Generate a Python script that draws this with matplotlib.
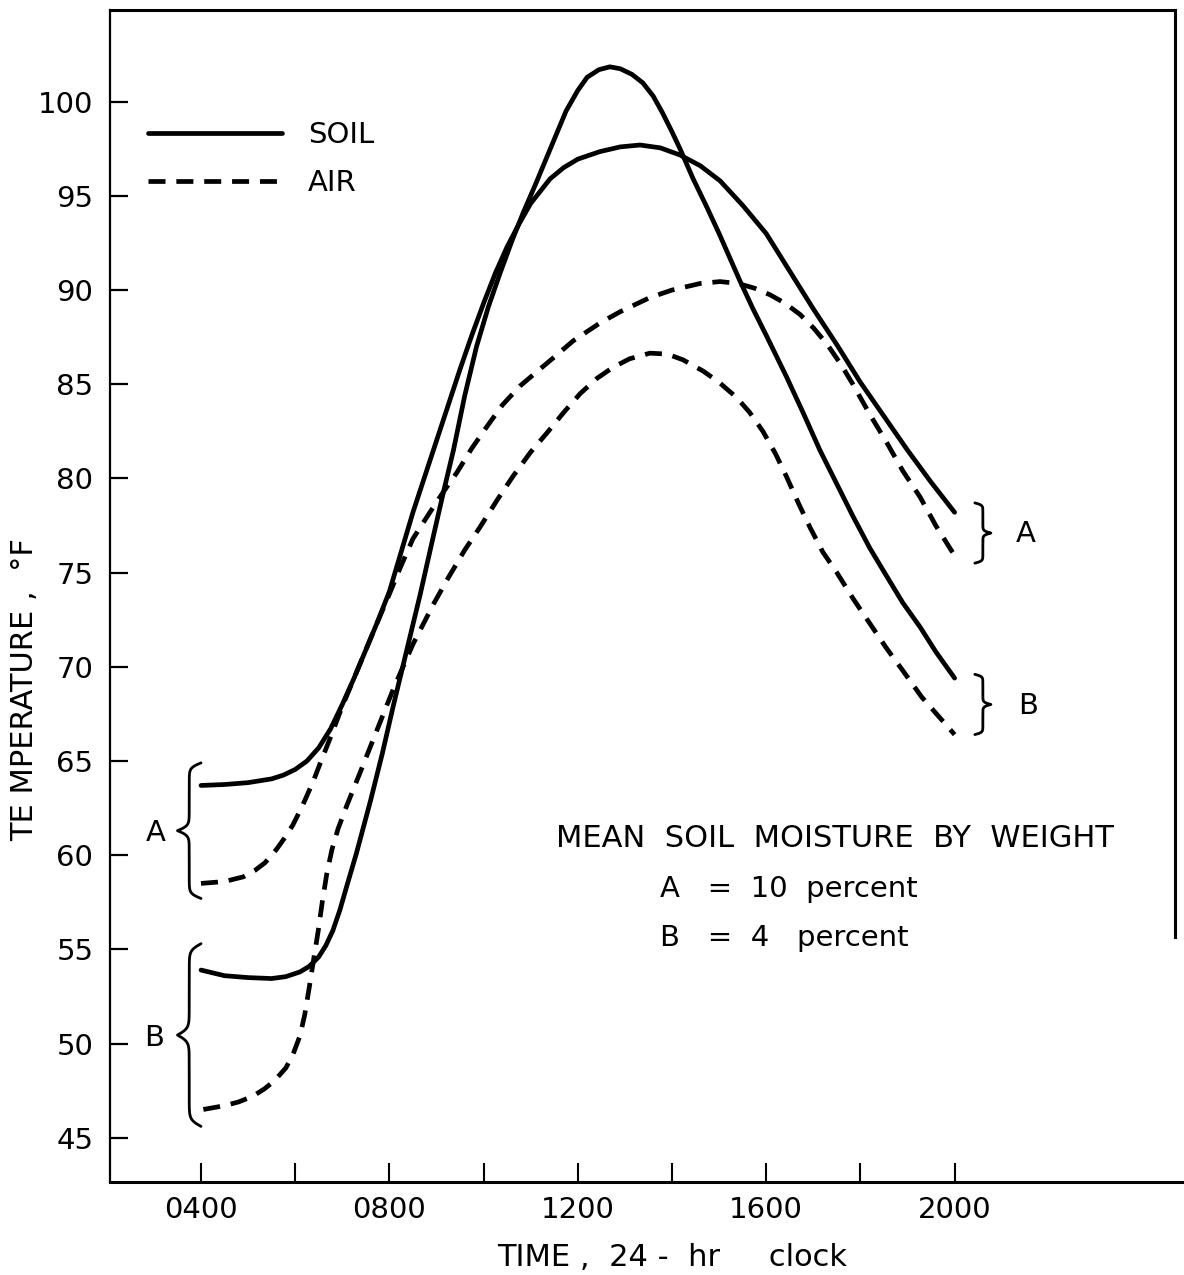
import numpy as np
import matplotlib.pyplot as plt

# hours (24-hr clock) and temperatures (deg F)
soil_a_hr = [4.0, 4.5, 5.0, 5.25, 5.5, 5.75, 6.0, 6.25, 6.5, 6.75, 7.0, 7.25, 7.5, 7.75, 8.0,
             8.25, 8.5, 8.75, 9.0, 9.25, 9.5, 9.75, 10.0, 10.25, 10.5, 10.75, 11.0, 11.41,
             11.7, 12.0, 12.47, 12.9, 13.32, 13.75, 14.17, 14.6, 15.02, 15.5, 16.0, 16.5,
             17.0, 17.5, 18.0, 18.5, 19.0, 19.5, 20.0]
soil_a_t = [63.7, 63.75, 63.85, 63.95, 64.05, 64.25, 64.55, 65.0, 65.7, 66.7, 68.0, 69.4, 70.9,
            72.4, 74.0, 76.1, 78.2, 80.1, 82.0, 83.9, 85.8, 87.6, 89.3, 90.9, 92.3, 93.5, 94.6,
            95.9, 96.5, 96.95, 97.35, 97.6, 97.7, 97.55, 97.17, 96.6, 95.8, 94.5, 93.0, 91.0,
            89.0, 87.1, 85.1, 83.3, 81.5, 79.8, 78.2]

air_a_hr = [4.0, 4.5, 4.9, 5.15, 5.36, 5.6, 5.8, 5.95, 6.15, 6.38, 6.55, 6.74, 7.0, 7.25, 7.5,
            7.75, 7.94, 8.22, 8.5, 8.86, 9.15, 9.43, 9.75, 10.07, 10.4, 10.77, 11.1, 11.48,
            11.9, 12.47, 12.9, 13.53, 14.0, 14.6, 15.02, 15.4, 15.75, 16.08, 16.4, 16.72,
            17.0, 17.3, 17.6, 17.84, 18.2, 18.56, 18.9, 19.27, 19.6, 20.0]
air_a_t = [58.5, 58.6, 58.85, 59.2, 59.6, 60.3, 61.0, 61.6, 62.6, 63.9, 65.0, 66.2, 67.9, 69.4,
           70.9, 72.4, 73.5, 75.2, 76.8, 78.2, 79.3, 80.3, 81.6, 82.75, 83.9, 84.9, 85.6,
           86.4, 87.3, 88.25, 88.85, 89.6, 90.0, 90.35, 90.45, 90.35, 90.1, 89.75, 89.3,
           88.7, 88.0, 87.1, 86.0, 85.0, 83.4, 81.9, 80.4, 79.0, 77.5, 75.9]

soil_b_hr = [4.0, 4.5, 5.0, 5.5, 5.8, 6.1, 6.3, 6.5, 6.65, 6.8, 6.95, 7.1, 7.3, 7.6, 7.85,
             8.08, 8.37, 8.65, 8.93, 9.15, 9.36, 9.6, 9.85, 10.1, 10.35, 10.6, 10.84, 11.1,
             11.35, 11.55, 11.75, 12.0, 12.2, 12.45, 12.68, 12.9, 13.15, 13.38, 13.6, 13.8,
             14.0, 14.17, 14.45, 14.74, 15.0, 15.44, 15.72, 16.0, 16.43, 16.8, 17.14, 17.5,
             17.84, 18.2, 18.56, 18.9, 19.27, 19.6, 20.0]
soil_b_t = [53.9, 53.6, 53.5, 53.45, 53.55, 53.8, 54.1, 54.6, 55.2, 56.0, 57.1, 58.4, 60.1,
            62.9, 65.4, 67.9, 70.9, 73.8, 76.9, 79.3, 81.5, 84.4, 87.0, 89.1, 90.9, 92.6,
            94.1, 95.6, 97.1, 98.3, 99.5, 100.6, 101.3, 101.7, 101.85, 101.75, 101.45,
            101.0, 100.3, 99.4, 98.4, 97.5, 95.9, 94.4, 93.0, 90.5, 89.0, 87.6, 85.4, 83.4,
            81.5, 79.7, 78.0, 76.3, 74.8, 73.4, 72.1, 70.8, 69.4]

air_b_hr = [4.05, 4.5, 4.8, 5.1, 5.35, 5.55, 5.8, 5.95, 6.1, 6.2, 6.3, 6.4, 6.49, 6.58, 6.67,
            6.78, 6.91, 7.09, 7.38, 7.73, 8.08, 8.5, 8.93, 9.22, 9.6, 9.92, 10.3, 10.62, 11.0,
            11.34, 11.7, 12.05, 12.4, 12.75, 13.1, 13.53, 13.9, 14.23, 14.66, 15.0, 15.37,
            15.65, 15.93, 16.2, 16.43, 16.7, 16.93, 17.2, 17.5, 17.85, 18.2, 18.55, 18.9,
            19.3, 19.65, 20.0]
air_b_t = [46.5, 46.7, 46.9, 47.2, 47.6, 48.0, 48.7, 49.4, 50.4, 51.5, 53.0, 54.6, 56.0, 57.6,
           59.0, 60.3, 61.4, 62.6, 64.4, 66.6, 68.8, 71.2, 73.3, 74.6, 76.2, 77.4, 78.9, 80.1,
           81.4, 82.4, 83.5, 84.5, 85.3, 85.9, 86.35, 86.65, 86.6, 86.3, 85.7, 85.1, 84.3,
           83.5, 82.5, 81.3, 80.1, 78.6, 77.4, 76.1, 75.0, 73.6, 72.3, 71.0, 69.8, 68.4,
           67.4, 66.4]

xticks_major = [4, 8, 12, 16, 20]
xtick_labels = ["0400", "0800", "1200", "1600", "2000"]
xticks_minor = [6, 10, 14, 18]
yticks = list(range(45, 101, 5))

plt.rcParams['font.family'] = ['DejaVu Sans']

fig = plt.figure(figsize=(11.84, 12.75), dpi=100)
ax = fig.add_axes([110 / 1184, 93 / 1275, 1074 / 1184, 1172 / 1275])

lw = 3.4
dash = (3.6, 2.3)
l_soil, = ax.plot(soil_a_hr, soil_a_t, color='black', lw=lw, solid_capstyle='round',
                  solid_joinstyle='round')
ax.plot(soil_b_hr, soil_b_t, color='black', lw=lw, solid_capstyle='round', solid_joinstyle='round')
l_air, = ax.plot(air_a_hr, air_a_t, color='black', lw=lw, dashes=dash)
ax.plot(air_b_hr, air_b_t, color='black', lw=lw, dashes=dash)


def brace(x, y0, y1, width):
    # curly brace from y0 to y1, tip pointing by the sign of width
    t = np.linspace(0, 0.5, 80)
    b = 55.0
    half = 1 / (1 + np.exp(-b * t)) + 1 / (1 + np.exp(-b * (t - 0.5)))
    half = half - half[0]
    prof = np.concatenate([half, half[-2::-1]])
    ys = np.linspace(y0, y1, len(prof))
    ax.plot(x + width * prof, ys, color='black', lw=2.0, solid_capstyle='round')
    return x + width


fs = 21
x0 = soil_a_hr[0]
x1 = soil_a_hr[-1] + 0.43
tip = brace(x0, air_a_t[0] - 0.8, soil_a_t[0] + 1.2, -0.5)
ax.text(tip - 0.47, (air_a_t[0] + soil_a_t[0]) / 2 + 0.1, "A", fontsize=fs, ha='center', va='center')
tip = brace(x0, air_b_t[0] - 0.9, soil_b_t[0] + 1.4, -0.5)
ax.text(tip - 0.5, (air_b_t[0] + soil_b_t[0]) / 2 + 0.1, "B", fontsize=fs, ha='center', va='center')
tip = brace(x1, air_a_t[-1] - 0.4, soil_a_t[-1] + 0.5, 0.34)
ax.text(tip + 0.75, (air_a_t[-1] + soil_a_t[-1]) / 2, "A", fontsize=fs, ha='center', va='center')
tip = brace(x1, air_b_t[-1], soil_b_t[-1] + 0.2, 0.34)
ax.text(tip + 0.8, (air_b_t[-1] + soil_b_t[-1]) / 2, "B", fontsize=fs, ha='center', va='center')

ax.text(11.54, 60.9, "MEAN  SOIL  MOISTURE  BY  WEIGHT", fontsize=22, ha='left', va='center')
ax.text(13.75, 58.2, "A   =  10  percent", fontsize=fs, ha='left', va='center')
ax.text(13.75, 55.6, "B   =  4   percent", fontsize=fs, ha='left', va='center')

ax.legend([l_soil, l_air], ["SOIL", "AIR"], loc='upper left', bbox_to_anchor=(0.035, 0.905),
          frameon=False, fontsize=fs, handlelength=4.6, handletextpad=0.9,
          labelspacing=0.68, borderpad=0, borderaxespad=0)

xl = 4 - 91 / 47.1
xr = 4 + (1184 - 201) / 47.1
ax.set_xlim(xl, xr)
ax.set_ylim(45 - 44.3 / 18.84, 100 + 91.7 / 18.84)

ax.set_xticks(xticks_major)
ax.set_xticklabels(xtick_labels)
ax.set_xticks(xticks_minor, minor=True)
ax.set_yticks(yticks)
ax.tick_params(axis='x', which='both', direction='in', length=14, width=1.5, pad=10, labelsize=fs)
ax.tick_params(axis='y', direction='in', length=13, width=1.6, pad=12, labelsize=fs)

ax.spines['left'].set_linewidth(1.6)
ax.spines['bottom'].set_linewidth(2.2)
ax.spines['top'].set_linewidth(2.2)
ax.spines['right'].set_linewidth(2.2)
xright = 4 + (1175 - 201) / 47.1
ax.spines['top'].set_bounds(xl, xright)
ax.spines['right'].set_position(('data', xright))
ax.spines['right'].set_bounds(55.65, 100 + 91.7 / 18.84)

ax.set_xlabel("TIME ,  24 -  hr     clock", fontsize=22)
ax.xaxis.set_label_coords(0.523, -0.052)
ax.set_ylabel("TE MPERATURE ,  °F", fontsize=22)
ax.yaxis.set_label_coords(-0.066, 0.42)

fig.savefig("out.png", dpi=100)
